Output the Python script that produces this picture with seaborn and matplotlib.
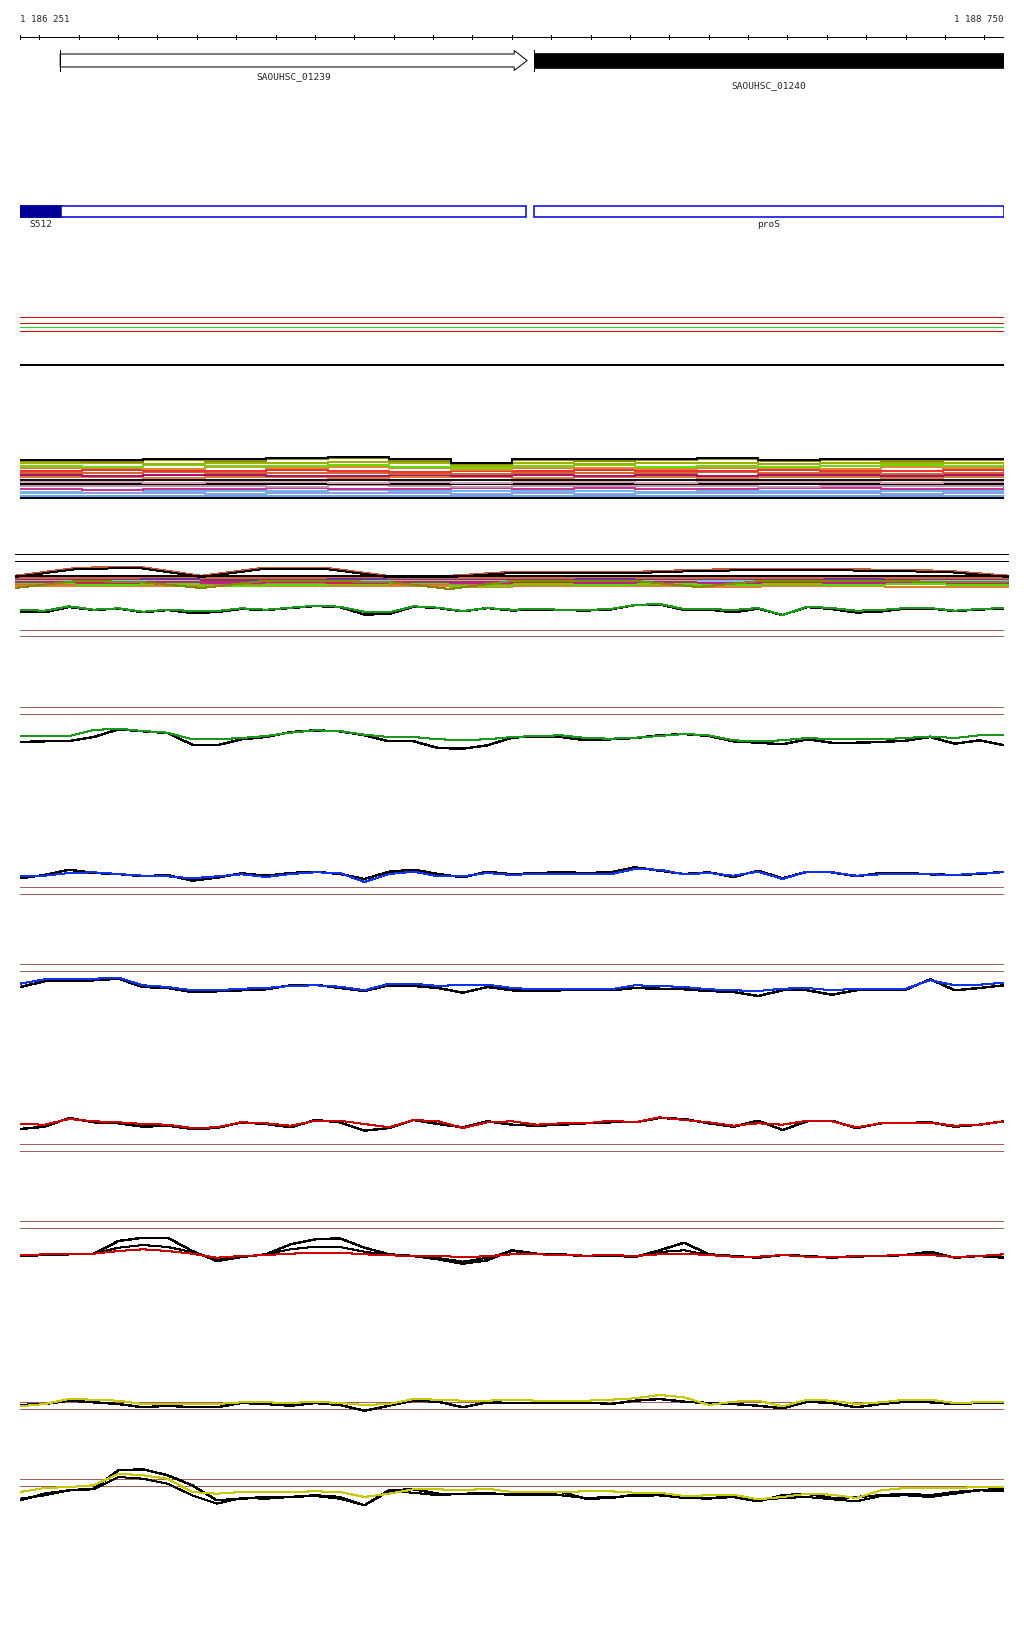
import numpy as np
import matplotlib
matplotlib.use("Agg")
import matplotlib.pyplot as plt
import matplotlib.patches as mpatches
import seaborn as sns

START, END = 1186251, 1188750
FIG_W, FIG_H = 1024, 1640

# genes (top row)
gene_names = ["SAOUHSC_01239", "SAOUHSC_01240"]
gene_starts = [1186353, 1187557]
gene_ends = [1187539, 1188750]
gene_styles = ["open", "filled"]

# annotated features (second row)
srna_name = "S512"
srna_range = [1186251, 1186355]
box_starts = [1186251, 1187557]
box_ends = [1187536, 1188750]
box_labels = ["", "proS"]

# flat reference lines under the features
ref_levels = [52, 46, 42, 38, 4]
ref_colors = ["#ee0000", "#ee0000", "#22dd22", "#ee0000", "#000000"]

# dense expression band 1 (step rows)
band1_colors = ["#000000", "#8a8a00", "#a0b000", "#66dd00", "#dd8833", "#ee3333",
                "#cc6633", "#aa1166", "#e07a40", "#111111", "#d4a0b4", "#000000",
                "#c890b0", "#cc3399", "#66bbee", "#9999dd", "#55aaee", "#000000"]
band1_rows = [
    [41, 41, 42, 42, 43, 44, 42, 38, 42, 42, 42, 43, 41, 42, 42, 42, 42],
    [40, 39, 41, 40, 42, 43, 40, 37, 41, 40, 41, 42, 40, 41, 40, 41, 41],
    [38, 38, 37, 38, 38, 39, 38, 35, 38, 37, 38, 38, 37, 38, 38, 38, 37],
    [35, 34, 36, 35, 35, 36, 34, 33, 35, 36, 34, 35, 34, 35, 36, 35, 35],
    [33, 33, 32, 34, 33, 34, 33, 31, 33, 33, 32, 33, 33, 32, 34, 33, 33],
    [30, 31, 30, 30, 31, 30, 29, 30, 30, 31, 30, 30, 31, 30, 30, 31, 30],
    [28, 28, 29, 28, 28, 28, 27, 27, 28, 28, 28, 29, 28, 28, 27, 28, 28],
    [26, 25, 26, 26, 25, 25, 26, 25, 26, 25, 26, 25, 26, 26, 25, 26, 26],
    [24, 24, 23, 24, 24, 23, 24, 24, 23, 24, 24, 23, 24, 24, 23, 24, 24],
    [21, 21, 21, 21, 21, 21, 21, 21, 21, 21, 21, 21, 21, 21, 21, 21, 21],
    [19, 19, 18, 19, 19, 18, 19, 18, 19, 19, 18, 19, 19, 19, 18, 19, 19],
    [17, 17, 17, 17, 17, 17, 17, 17, 17, 17, 17, 17, 17, 17, 17, 17, 17],
    [15, 15, 15, 15, 14, 16, 15, 14, 15, 15, 15, 15, 14, 15, 15, 15, 15],
    [12, 11, 12, 12, 13, 12, 12, 13, 12, 13, 12, 12, 13, 13, 12, 12, 13],
    [9, 11, 10, 10, 10, 11, 10, 10, 10, 10, 9, 10, 10, 10, 10, 10, 10],
    [8, 8, 8, 7, 8, 8, 8, 7, 8, 7, 8, 8, 8, 8, 7, 8, 8],
    [5, 5, 5, 5, 5, 5, 5, 5, 5, 5, 5, 5, 5, 5, 5, 5, 5],
    [3, 3, 3, 3, 3, 3, 3, 3, 3, 3, 3, 3, 3, 3, 3, 3, 3],
]

# dense expression band 2
band2_limits = [45, 38]
band2_colors = ["#dd6622", "#663399", "#88bbee", "#dd2222", "#bb2288",
                "#55dd00", "#cc7733", "#e08030"]
band2_rows = [
    [21, 21, 22, 21, 21, 22, 21, 21, 21, 22, 21, 21, 21, 22, 21, 21, 21],
    [20, 20, 20, 19, 20, 20, 20, 20, 20, 20, 20, 20, 19, 20, 20, 20, 20],
    [19, 19, 19, 19, 18, 19, 19, 19, 19, 19, 19, 18, 19, 19, 19, 18, 19],
    [18, 17, 18, 18, 18, 17, 18, 18, 17, 18, 18, 18, 17, 18, 18, 18, 18],
    [17, 16, 17, 16, 17, 16, 17, 16, 17, 16, 17, 16, 17, 16, 17, 16, 17],
    [16, 14, 15, 13, 14, 15, 16, 13, 15, 14, 15, 14, 15, 14, 15, 14, 14],
    [15, 15, 15, 15, 15, 15, 15, 14, 15, 15, 15, 15, 15, 15, 15, 15, 15],
    [13, 13, 13, 13, 13, 13, 13, 12, 13, 13, 13, 12, 13, 13, 12, 12, 12],
]
band2_base = [23, 23, 23, 23, 23, 23, 23, 23, 23, 23, 23, 23, 23, 23, 23, 23, 23]
band2_peak_brown = [23, 31, 32, 23, 31, 31, 23, 23, 27, 27, 27, 29, 30, 30, 29, 28, 23]
band2_peak_black = [22, 30, 31, 22, 30, 30, 22, 22, 26, 26, 26, 28, 29, 29, 28, 27, 22]
band2_olive = [11, 18, 17, 11, 18, 18, 17, 10, 18, 18, 18, 12, 18, 18, 18, 17, 17]

# profile panels: (level on page, thresholds, series, colours)
a_green = [0, -0.7, 3.7, 0.3, 1.7, -1.7, 0.3, -1, -1, 1.7, 0.3, 2.3, 4.3, 3.3, -1.7, -2.3, 3.7, 2.3, -1, 2,
           0.3, 1, 0.3, 0, 1, 5, 6, 1, 1, 0, 2, -5, 3.3, 2, -0.7, 0, 2, 2, -0.7, 1, 2]
a_black = [-1.7, -2.3, 3, 0, 1.5, -2.3, 0, -3, -2, 1, 0, 2, 4, 3, -4.5, -4, 3.3, 2, -1.3, 2,
           -0.5, 0.5, 0, -0.5, 0.5, 5, 5.5, 0, 0.5, -2.3, 1.3, -5, 3, 1, -2.5, -1.5, 1.5, 1.5, -1, 0.5, 1.5]
b_green = [0, 0, 0, 6, 7.3, 5, 3.3, -3.3, -3.3, -2, 0, 3.3, 5.7, 5, 1.3, -1, -1, -3.3, -4, -3.3,
           -1, 0, 0.7, -2, -2.7, -1.7, 0, 2, 0.7, -4.3, -5.3, -4.3, -2, -3.3, -3.3, -3.3, -2, -0.5, -2, 0.7, 0.7]
b_black = [-6, -5.3, -5, -1, 6.7, 4.7, 3, -8.7, -9.3, -3.3, -1, 4, 5.7, 4.7, 0.7, -5.3, -5.3, -12, -12.7, -9.3,
           -1.7, -0.3, -1, -4.3, -3.3, -2, 0.7, 2, 0, -5.3, -6.7, -8.3, -3.3, -6.7, -6.7, -6, -4.7, -1, -7.7, -4.3, -9.3]
c_blue = [-2.3, -1.7, 1, 1.7, 0, -1.7, -2.3, -4.3, -2.3, -0.3, -3, 0, 1.7, 1, -8, 0, 2.3, -2.3, -2.3, 1,
          -1, 0.3, -0.3, 0, -0.3, 5, 4.3, -0.3, 1, -1.7, 2.3, -5, 2.3, 1.7, -1.7, -0.3, -0.3, -0.3, -1, 0.7, 1.7]
c_black = [-4.3, -1, 4.3, 1, 0, -2.3, -1, -6.7, -3.7, 0.7, -1.7, 1, 2.3, 0, -5, 2.3, 4.3, 0, -3.3, 2.3,
           -0.3, 1, 1.7, 1, 1.7, 6.7, 3.3, 0, 1.7, -3, 3.3, -4.3, 2.3, 1.7, -2.3, 1, 1, -0.3, -1, 0, 2.3]
d_blue = [3.3, 7.7, 8.3, 8.3, 9.3, 1.7, 0, -3.3, -3.3, -1.7, -1, 1, 1.7, 0.3, -3.3, 3.3, 3.3, 1, 2.3, 2.3,
          -1, -2.3, -1.7, -2.3, -2.3, 1.7, 1, 0, -2.3, -3.3, -4, -1.7, -1, -3.3, -1.7, -1.7, -1.7, 6.7, 1.7, 2.3, 4.3]
d_black = [0, 5.7, 5.7, 6.7, 8.3, 0, -1, -5, -4.3, -3.3, -2.3, 1.7, 2.3, -1, -4, 1.7, 1, -1, -5.7, 0,
           -3.3, -4, -3.3, -2.7, -3.3, -1, -1.7, -2.3, -4, -5, -9, -3.3, -3.3, -7.7, -3.3, -3.3, -2.7, 7.7, -3.3, -1, 1.7]
e_red = [0, -0.7, 5, 2.7, 1.7, 0, -0.7, -4, -3.3, 1.7, 0.7, -1.7, 3.3, 3.3, 0, -3.3, 4, 2.7, -4, 1.7,
         2.7, -0.7, 0.7, 0.7, 3.3, 1.7, 6.7, 4, 1.7, -1.7, 0.7, -0.7, 3.3, 2.7, -3.3, 0.7, 1.3, 1.3, -1.7, -0.7, 2.7]
e_black = [-5, -2.7, 6, 1.7, 0.7, -2.7, -1.7, -5, -4, 1.7, 0, -3.3, 4, 1.7, -6.7, -4, 4, 0, -3.3, 2.7,
           -0.7, -1.7, -0.7, 0.7, 1.7, 1.7, 6, 5, 0.7, -2.7, 3.3, -6, 2.7, 3.3, -4, 0.7, 1, 1.7, -2.7, -0.7, 2.7]
f_black1 = [-1, 0, 0.7, 1.3, 14, 17.3, 17.3, 4, -6, -2, 0.7, 10.7, 15.7, 16.7, 7.3, 0.7, -1, -4.3, -8.7, -5.3,
            4.7, 1.3, 0.7, -1, -0.3, -2, 4.7, 12.3, 0.7, -1, -2.7, 0, -1, -2.7, -1, -1, 0, 3.3, -2.7, -1, -2.7]
f_black2 = [-1, 0, 0.7, 1.3, 7.3, 10, 8, 3, -4.3, -2, 0.7, 5.7, 8.3, 8, 3.3, -0.3, -1, -3, -6.7, -2.7,
            4, 1.3, 0, -1, -0.3, -2, 3, 4.7, 0, -1.7, -2.7, 0, -1.7, -2.7, -1.7, -1, 0, 2.3, -2.7, -1, 0.7]
f_red = [-0.3, 0.7, 1.3, 1.3, 4, 5.7, 4, 1.3, -2.7, -1, 0, 1.3, 2.3, 2.3, 0.7, -0.3, -1, -1, -2, -1.3,
         0.7, 0.7, 0, -0.7, 0, -1, 0.7, 1.3, 0, -1.7, -1.7, 0, -1.7, -2, -1.3, -0.7, 0, 0, -2, -1, 0.7]
g_yellow = [-3.3, -1, 4, 3.3, 2.3, -1, -1, -1, -1, 0.7, 0.7, 0, 1.3, 0, -2, -1, 4, 3.3, 2.3, 2.3,
            3.3, 2.3, 2.3, 2.3, 3.3, 4.7, 8, 5.7, -2, 1.3, 2.3, -3.3, 3.3, 2.3, -1, 0.7, 3.3, 3.3, 0, 0.7, 1.3]
g_black = [-2, -1, 2.3, 0.7, -1, -4.3, -2.7, -4.3, -4.3, 0, -1, -2.7, 0, -2, -7.7, -2.7, 2.3, 1.3, -4.3, 0.7,
           0, 0, 0, 0.7, -1, 2.3, 4, 1.3, 0, -1, -2.7, -5.3, 1.3, 0, -4.3, -1, 1.3, 0.7, -1, 0, 0.7]
h_yellow = [0, 4, 5, 6.7, 18.3, 16.7, 13.3, 0, -1.7, 0, 0, 0, 0.7, 0, -5, -1.7, 2.7, 2.7, 1.7, 3.3,
            0, 0, 0, 0.7, 0.7, -0.7, -0.7, -4, -3.3, -2.7, -7.3, -5, -1.7, -2.7, -6, 1.7, 4, 4, 4, 5, 5]
h_black1 = [-8.3, -1.7, 1.7, 3.3, 21.7, 22.7, 16.7, 6.7, -8.3, -6.7, -5, -5, -3.3, -5, -13.3, 1.7, 2.7, -1.7, -1.7, -1.7,
            -1.7, -1.7, 0, -6.7, -6, -2.7, -3.3, -5, -6, -5, -9.3, -3.3, -1.7, -6, -5, -3.3, -1.7, -3.3, 0, 1.7, 3.3]
h_black2 = [-6.7, -3.3, 1.7, 2.7, 15, 13.3, 8.3, -3.3, -11.7, -6, -6.7, -5, -4, -6.7, -13.3, 0.7, -0.7, -3.3, -1.7, -0.7,
            -3.3, -3.3, -3.3, -6, -5, -4, -3.3, -6, -6.7, -5, -8.3, -6, -5, -7.3, -9.3, -4, -3.3, -5, -1.7, 1.7, 0.7]

GREEN, BLUE, RED, YELLOW = "#1a9a1a", "#1133ee", "#cc0000", "#c8c800"
BROWN = "#a0605c"
panels = [
    (611, [-20, -26], [a_black, a_green], ["#000000", GREEN]),
    (737, [29, 22], [b_black, b_green], ["#000000", GREEN]),
    (875, [-13, -20], [c_black, c_blue], ["#000000", BLUE]),
    (988, [23, 16], [d_black, d_blue], ["#000000", BLUE]),
    (1125, [-20, -27], [e_black, e_red], ["#000000", RED]),
    (1256, [34, 27], [f_black1, f_black2, f_red], ["#000000", "#000000", RED]),
    (1404, [1, -6], [g_black, g_yellow], ["#000000", YELLOW]),
    (1493, [13, 6], [h_black1, h_black2, h_yellow], ["#000000", "#000000", YELLOW]),
]

prof_pos = np.linspace(START, END, 41)
band_pos = np.linspace(START, END, 17)


def add_track(fig, top, bottom, left=20, right=1004):
    ax = fig.add_axes([left / FIG_W, 1 - bottom / FIG_H,
                       (right - left) / FIG_W, (bottom - top) / FIG_H])
    ax.set_xlim(START, END)
    ax.patch.set_alpha(0)
    return ax


def finish(ax):
    ax.set_axis_off()


def main():
    sns.set_theme(style="white")
    plt.rcParams["font.family"] = ["DejaVu Sans Mono"]
    plt.rcParams["lines.antialiased"] = False
    fig = plt.figure(figsize=(FIG_W / 100, FIG_H / 100), dpi=100)
    fig.patch.set_facecolor("white")

    # ruler
    ax = add_track(fig, 30, 46)
    ax.set_ylim(-1, 1)
    ax.plot([START, END], [0, 0], color="black", lw=0.72)
    ticks = [START] + list(range(1186300, END, 100)) + [END]
    ax.vlines(ticks, -0.3, 0.3, color="black", lw=0.72)
    ax.text(START, 2.25, "1 186 251", ha="left", va="center", fontsize=6.6, clip_on=False)
    ax.text(END, 2.25, "1 188 750", ha="right", va="center", fontsize=6.6, clip_on=False)
    finish(ax)

    # genes
    ax = add_track(fig, 48, 75)
    ax.set_ylim(-1, 1)
    head = 33
    for name, s, e, style, ly in zip(gene_names, gene_starts, gene_ends, gene_styles, [-1.13, -1.81]):
        if style == "open":
            pts = [(s, -0.48), (e - head, -0.48), (e - head, -0.74), (e, 0),
                   (e - head, 0.74), (e - head, 0.48), (s, 0.48)]
            ax.add_patch(mpatches.Polygon(pts, closed=True, facecolor="white",
                                          edgecolor="black", lw=0.72))
        else:
            ax.add_patch(mpatches.Rectangle((s, -0.52), e - s, 1.04, facecolor="black",
                                            edgecolor="black", lw=0.5))
        ax.vlines(s, -0.78, 0.78, color="black", lw=0.72)
        ax.text((s + e) / 2, ly, name, ha="center", va="center", fontsize=6.8, clip_on=False)
    finish(ax)

    # features
    ax = add_track(fig, 197.5, 227.5)
    ax.set_ylim(-1, 1)
    for s, e, lab in zip(box_starts, box_ends, box_labels):
        ax.add_patch(mpatches.Rectangle((s, -0.34), e - s, 0.68, facecolor="none",
                                        edgecolor="#0000dd", lw=1.1))
        if lab:
            ax.text((s + e) / 2, -0.77, lab, ha="center", va="center", fontsize=6.8, clip_on=False)
    ax.add_patch(mpatches.Rectangle((srna_range[0], -0.34), srna_range[1] - srna_range[0], 0.68,
                                    facecolor="#000099", edgecolor="#000099", lw=1.1))
    ax.text(sum(srna_range) / 2, -0.77, srna_name, ha="center", va="center", fontsize=6.8, clip_on=False)
    finish(ax)

    # reference lines
    ax = add_track(fig, 310, 370)
    ax.set_ylim(0, 60)
    for lv, c in zip(ref_levels, ref_colors):
        ax.axhline(lv, color=c, lw=0.72 if c != "#000000" else 1.3)
    finish(ax)

    # band 1
    ax = add_track(fig, 452, 502)
    ax.set_ylim(0, 50)
    for vals, c in zip(band1_rows[::-1], band1_colors[::-1]):
        sns.lineplot(x=band_pos, y=vals, ax=ax, color=c, lw=1.1, drawstyle="steps-post",
                     estimator=None)
    finish(ax)

    # band 2 (slightly wider)
    ax = add_track(fig, 550, 600, left=15, right=1009)
    ax.set_ylim(0, 50)
    for lv in band2_limits:
        ax.axhline(lv, color="black", lw=0.72)
    for vals, c in zip(band2_rows[::-1], band2_colors[::-1]):
        sns.lineplot(x=band_pos, y=vals, ax=ax, color=c, lw=1.4, drawstyle="steps-post",
                     estimator=None)
    sns.lineplot(x=band_pos, y=band2_olive, ax=ax, color="#888800", lw=0.8, estimator=None)
    sns.lineplot(x=band_pos, y=band2_peak_brown, ax=ax, color="#cc5533", lw=1.1, estimator=None)
    sns.lineplot(x=band_pos, y=band2_peak_black, ax=ax, color="#000000", lw=0.72, estimator=None)
    sns.lineplot(x=band_pos, y=band2_base, ax=ax, color="#000000", lw=1.4, estimator=None)
    finish(ax)

    # profile panels
    for level, thr, series, colors in panels:
        ax = add_track(fig, level - 45, level + 45)
        ax.set_ylim(-45, 45)
        for t in thr:
            ax.axhline(t, color=BROWN, lw=0.72)
        for k, (vals, c) in enumerate(zip(series, colors)):
            lw = 1.0 if (c == "#000000" and k == 0) else 0.75
            sns.lineplot(x=prof_pos, y=vals, ax=ax, color=c, lw=lw, estimator=None)
        finish(ax)

    fig.savefig("out.png", dpi=100, facecolor="white")
    plt.close(fig)


if __name__ == "__main__":
    main()
